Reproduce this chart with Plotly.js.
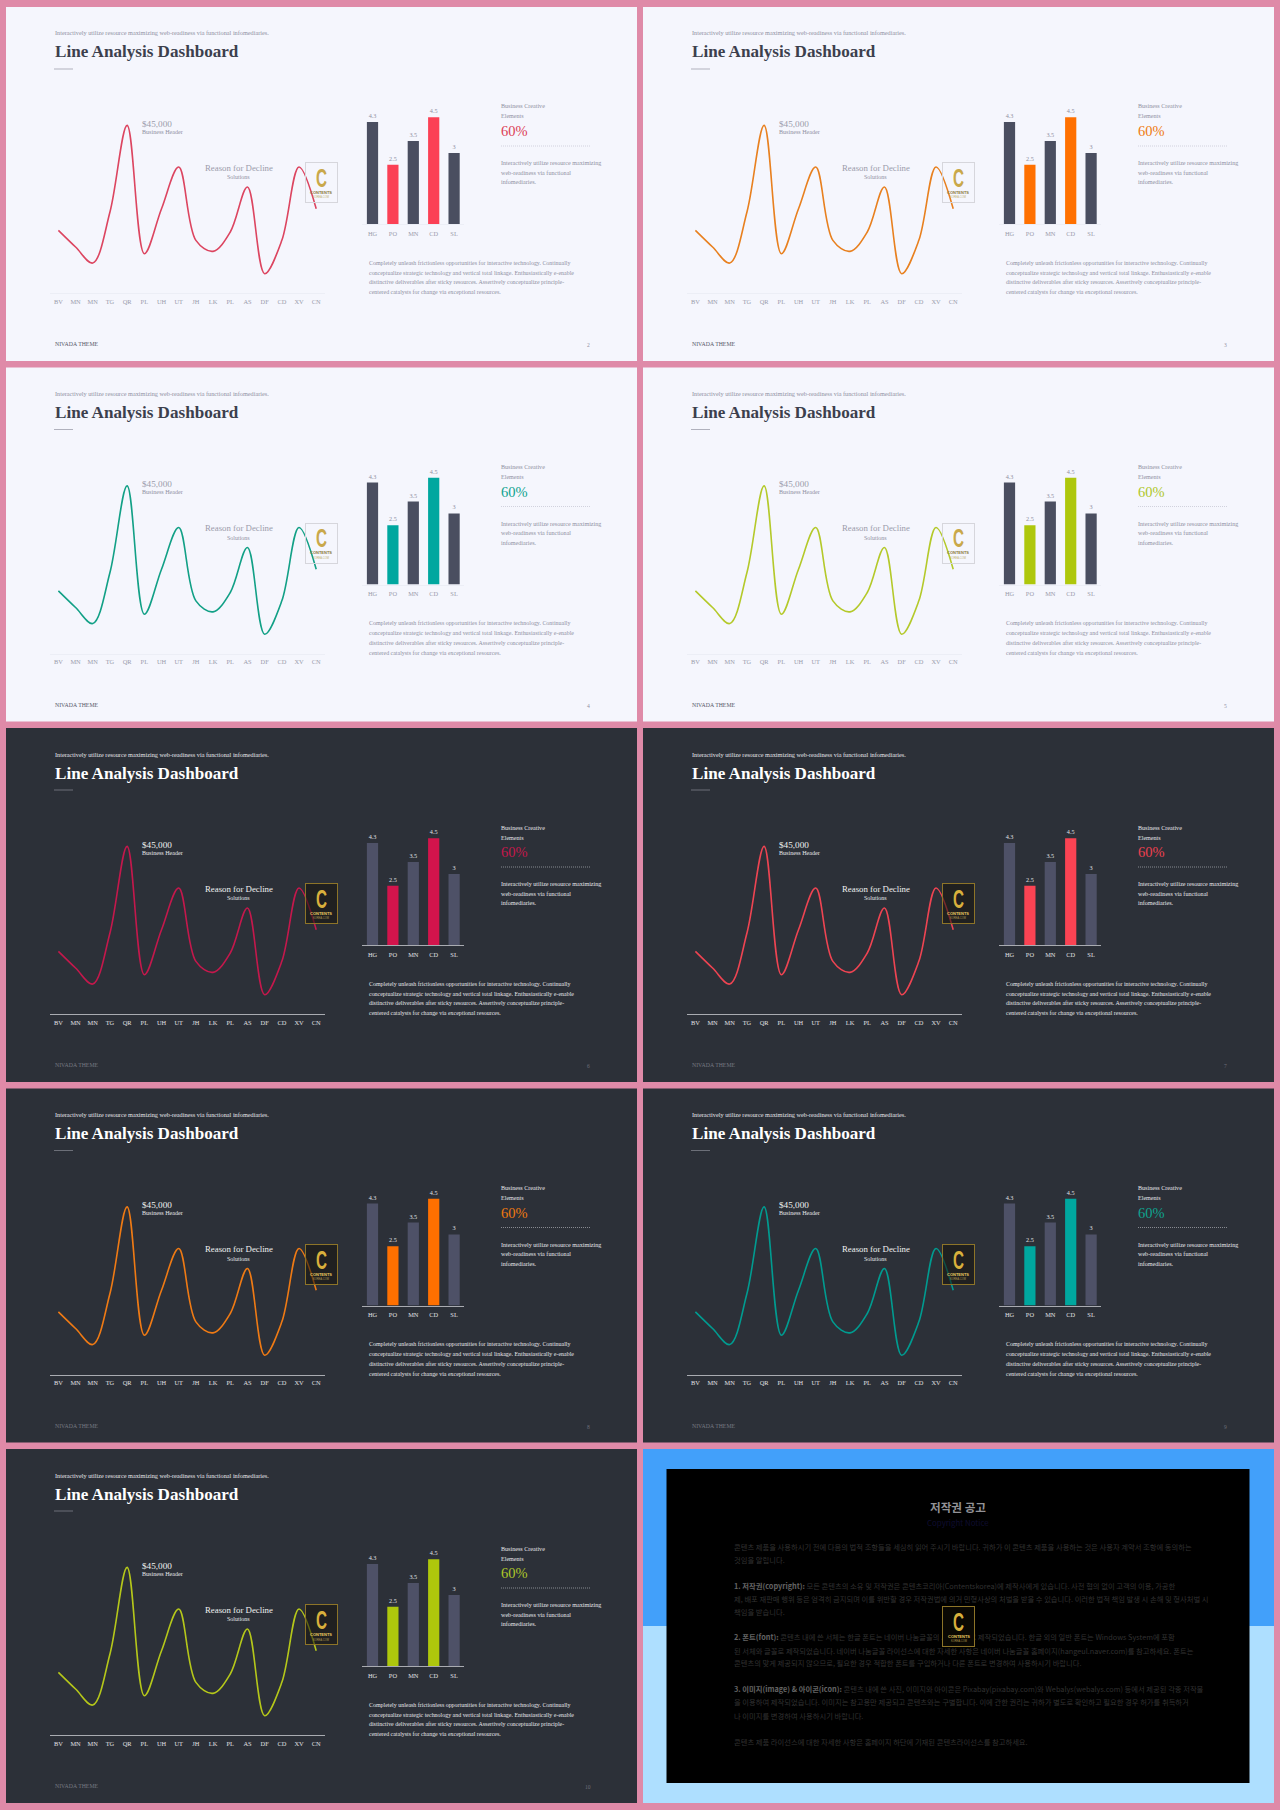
<!DOCTYPE html>
<html><head><meta charset="utf-8">
<script src="https://cdn.plot.ly/plotly-3.0.1.min.js"></script>
<style>html,body{margin:0;padding:0;background:#df8aa8}#c{width:1280px;height:1810px}</style>
</head><body><div id="c"></div>
<script>
// ---- data ----
const lineCategories = ['BV','MN','MN','TG','QR','PL','UH','UT','JH','LK','PL','AS','DF','CD','XV','CN'];
const lineValues = [37.6,27.6,18,48.6,100.6,23.6,50.6,75.6,31.6,25,36.6,63.6,11.6,31.6,75.6,50.6];
const barCategories = ['HG','PO','MN','CD','SL'];
const barValues = [4.3,2.5,3.5,4.5,3];
const barLabels = ['4.3','2.5','3.5','4.5','3'];
const accentBars = [false,true,false,true,false];
const pageNumbers = ['2','3','4','5','6','7','8','9','10'];
const themeDark = [false,false,false,false,true,true,true,true,true];
const lineColors = ['#dc4560','#e8801f','#12a086','#b4c92a','#c4184c','#ee4452','#ef7a14','#009b90','#b5c71a'];
const barColors  = ['#fb4055','#ff7000','#00a79f','#aec70c','#d3144c','#fb4353','#ff7000','#00a79f','#aec70c'];
const pctColors  = ['#dc4055','#ef7a10','#0fa38f','#aec72a','#c4184c','#ee4050','#ef7a10','#0fa38f','#aec72a'];

const subtitleText = 'Interactively utilize resource maximizing web-readiness via functional infomediaries.';
const titleText = 'Line Analysis Dashboard';
const sideText = ['Interactively utilize resource maximizing','web-readiness via functional','infomediaries.'];
const bodyText = ['Completely unleash frictionless opportunities for interactive technology. Continually',
 'conceptualize strategic technology and vertical total linkage. Enthusiastically e-enable',
 'distinctive deliverables after sticky resources. Assertively conceptualize principle-',
 'centered catalysts for change via exceptional resources.'];
const noticeLines = [
 ['콘텐츠 제품을 사용하시기 전에 다음의 법적 조항들을 세심히 읽어 주시기 바랍니다. 귀하가 이 콘텐츠 제품을 사용하는 것은 사용자 계약서 조항에 동의하는',1546.7],
 ['것임을 알립니다.',1560],
 ['<b>1. 저작권(copyright):</b> 모든 콘텐츠의 소유 및 저작권은 콘텐츠코리아(Contentskorea)에 제작사에게 있습니다. 사전 협의 없이 고객의 이용, 가공한',1585.7],
 ['제, 배포 재판매 행위 등은 엄격히 금지되며 이를 위반할 경우 저작권법에 의거 민형사상의 처벌을 받을 수 있습니다. 이러한 법적 책임 발생 시 손해 및 형사처벌 시',1598.7],
 ['책임을 받습니다.',1612],
 ['<b>2. 폰트(font):</b> 콘텐츠 내에 쓴 서체는 한글 폰트는 네이버 나눔글꼴의 서체 등으로 제작되었습니다. 한글 외의 일반 폰트는 Windows System에 포함',1637],
 ['된 서체와 글꼴로 제작되었습니다. 네이버 나눔글꼴 라이선스에 대한 자세한 사항은 네이버 나눔글꼴 홈페이지(hangeul.naver.com)를 참고하세요. 폰트는',1650.7],
 ['콘텐츠의 맞게 제공되지 않으므로, 필요한 경우 적합한 폰트를 구입하거나 다른 폰트로 변경하여 사용하시기 바랍니다.',1663],
 ['<b>3. 이미지(image) & 아이콘(icon):</b> 콘텐츠 내에 쓴 사진, 이미지와 아이콘은 Pixabay(pixabay.com)와 Webalys(webalys.com) 등에서 제공된 각종 저작물',1689],
 ['을 이용하여 제작되었습니다. 이미지는 참고용만 제공되고 콘텐츠와는 구별합니다. 이에 관한 권리는 귀하가 별도로 확인하고 필요한 경우 허가를 취득하거',1702],
 ['나 이미지를 변경하여 사용하시기 바랍니다.',1715.7],
 ['콘텐츠 제품 라이선스에 대한 자세한 사항은 홈페이지 하단에 기재된 콘텐츠라이선스를 참고하세요.',1741.7]
];

// ---- geometry ----
const W=1280,H=1810;
const slideW=631, slideH=354;
const colX=[6,643], rowY=[7,367.5,728,1088.5,1449];
const px=x=>x/W, py=y=>1-y/H;
const serif='"Liberation Serif", serif', kr='"Noto Sans CJK KR", sans-serif', sans='"Liberation Sans", sans-serif';

const shapes=[], annotations=[], traces=[], layout={};
function rect(x0,y0,x1,y1,fill,line){shapes.push({type:'rect',xref:'paper',yref:'paper',layer:'below',x0:px(x0),x1:px(x1),y0:py(y1),y1:py(y0),fillcolor:fill,line:line||{width:0}});}
function hline(x0,x1,y,color,width,dash){shapes.push({type:'line',xref:'paper',yref:'paper',layer:'below',x0:px(x0),x1:px(x1),y0:py(y),y1:py(y),line:{color:color,width:width||1,dash:dash||'solid'}});}
function T(x,y,text,size,color,anchor,family,weight){annotations.push({xref:'paper',yref:'paper',x:px(x),y:py(y),text:text,showarrow:false,xanchor:anchor||'left',yanchor:'middle',align:anchor||'left',borderpad:0,font:{size:size,color:color,family:family||serif,weight:weight||400}});}
function logo(cx,cy,dark,over){
  annotations.push({xref:'paper',yref:'paper',x:px(cx),y:py(cy),text:'&#160;',showarrow:false,xanchor:'center',yanchor:'middle',width:31,height:39,borderpad:0,borderwidth:1,
    bordercolor:dark?'#8d7428':'#d6d6dc',bgcolor:dark?(over?'#0a0803':'rgba(24,20,12,0.55)'):'rgba(0,0,0,0)',font:{size:6}});
  T(cx,cy-4.5,'C',26,dark?'#d9b03c':'#c9a84a','center',sans,700);
  T(cx,cy+10,'CONTENTS',4,dark?'#e8c860':'#8a7a3a','center',sans,700);
  T(cx,cy+15,'KOREA.COM',2.6,dark?'#b09a50':'#c0b070','center',sans);
}

for(let i=0;i<9;i++){
  const ox=colX[i%2], oy=rowY[Math.floor(i/2)];
  const dark=themeDark[i];
  const ax=x=>ox+x, ay=y=>oy+y;
  const textMain=dark?'#e6e6ea':'#8f90a2', titleC=dark?'#ffffff':'#3c3f4d';
  rect(ox,oy,ox+slideW,oy+slideH,dark?'#2c3038':'#f5f6fd');
  T(ax(47.5),ay(26),subtitleText,6.25,textMain);
  T(ax(47.5),ay(45),'<b>'+titleText+'</b>',17.1,titleC);
  hline(ax(48),ax(67),ay(62),dark?'#6c6f78':'#b0b1bd',1);
  // line subplot
  const n1=2*i+1,n2=2*i+2;
  const xL=n1===1?'xaxis':'xaxis'+n1, yL=n1===1?'yaxis':'yaxis'+n1;
  const xB='xaxis'+n2, yB='yaxis'+n2;
  const tick=(s)=>({size:s,color:dark?'#e0e0e4':'#9a9bab',family:serif});
  layout[xL]={domain:[px(ax(43.8)),px(ax(318.8))],type:'category',range:[-0.5,15.5],tickmode:'array',tickvals:lineCategories.map((c,k)=>k),ticktext:lineCategories,
    showline:true,linecolor:dark?'#a9abb1':'#eceef6',linewidth:1,showgrid:false,zeroline:false,ticks:'',tickfont:tick(6.4),ticklabelstandoff:2,anchor:n1===1?'y':'y'+n1,fixedrange:true};
  layout[yL]={domain:[py(ay(286)),py(ay(286-183.3))],range:[0,110],visible:false,fixedrange:true,anchor:n1===1?'x':'x'+n1};
  traces.push({type:'scatter',mode:'lines',x:lineCategories.map((c,k)=>k),y:lineValues,xaxis:n1===1?'x':'x'+n1,yaxis:n1===1?'y':'y'+n1,
    line:{color:lineColors[i],width:1.6,shape:'spline',smoothing:1},hoverinfo:'skip',showlegend:false,cliponaxis:false});
  // bar subplot
  layout[xB]={domain:[px(ax(356.3)),px(ax(458.3))],type:'category',range:[-0.5,4.5],tickmode:'array',tickvals:barCategories.map((c,k)=>k),ticktext:barCategories,
    showline:true,linecolor:dark?'#a9abb1':'#eceef6',linewidth:1,showgrid:false,zeroline:false,ticks:'',tickfont:tick(6.4),ticklabelstandoff:3,anchor:'y'+n2,fixedrange:true};
  layout[yB]={domain:[py(ay(217)),py(ay(217-118.5))],range:[0,5],visible:false,fixedrange:true,anchor:'x'+n2};
  traces.push({type:'bar',x:barCategories.map((c,k)=>k),y:barValues,xaxis:'x'+n2,yaxis:'y'+n2,text:barLabels,textposition:'outside',cliponaxis:false,
    textfont:{size:6.2,color:dark?'#e0e0e4':'#8f90a2',family:serif},
    marker:{color:accentBars.map(a=>a?barColors[i]:(dark?'#4e5167':'#4a4e60')),line:{width:0}},hoverinfo:'skip',showlegend:false});
  // annotations on the line chart
  T(ax(135),ay(116.5),'$45,000',9.2,dark?'#f0f0f0':'#9b9cab');
  T(ax(135),ay(124.5),'Business Header',6.1,textMain);
  T(ax(232.5),ay(160.5),'Reason for Decline',8.8,dark?'#f0f0f0':'#9b9cab','center');
  T(ax(232.5),ay(170),'Solutions',6,textMain,'center');
  logo(ax(315.3),ay(175.5),dark,false);
  // right column
  T(ax(494),ay(99.5),'Business Creative',6.1,textMain);
  T(ax(494),ay(109.5),'Elements',6.1,textMain);
  T(ax(494),ay(124),'60%',14.5,pctColors[i]);
  hline(ax(495),ax(584),ay(139),dark?'#a0a2a8':'#c8c9d4',0.8,'1px,1px');
  sideText.forEach((s,k)=>T(ax(494),ay(156.3+k*9.5),s,6.1,textMain));
  bodyText.forEach((s,k)=>T(ax(362.3),ay(255.7+k*9.85),s,5.95,textMain));
  T(ax(48),ay(337.3),'NIVADA THEME',5.8,dark?'#767982':'#555868');
  T(ax(582),ay(338),pageNumbers[i],5.6,dark?'#6c6f78':'#8f90a2','center');
}
// copyright slide
{
  const ox=colX[1], oy=rowY[4];
  rect(ox,oy,ox+slideW,1626,'#42a0fa');
  rect(ox,1626,ox+slideW,oy+slideH,'#aedfff');
  rect(666.5,1469,1249.5,1783,'#000000');
  T(958,1507,'<b>저작권 공고</b>',11.6,'#929296','center',kr);
  T(958,1522,'Copyright Notice',7.9,'#0f0d30','center',kr);
  noticeLines.forEach(l=>T(733,l[1],l[0].replace(/<b>(.*?)<\/b>/,'<span style="color:#646464"><b>$1</b></span>'),7.3,'#323232','left',kr));
  logo(958.5,1626,true,true);
}
layout.width=W;layout.height=H;layout.margin={l:0,r:0,t:0,b:0,pad:0};layout.autosize=false;
layout.paper_bgcolor='#df8aa8';layout.plot_bgcolor='rgba(0,0,0,0)';layout.showlegend=false;
layout.bargap=0.45;layout.shapes=shapes;layout.annotations=annotations;
Plotly.newPlot('c',traces,layout,{staticPlot:true,displayModeBar:false}).then(()=>{
  // the logo letter is a condensed face: squeeze the real text to its width
  document.querySelectorAll('.annotation-text').forEach(t=>{
    if(t.textContent==='C'){t.setAttribute('textLength','11');t.setAttribute('lengthAdjust','spacingAndGlyphs');}
  });
});
</script></body></html>
